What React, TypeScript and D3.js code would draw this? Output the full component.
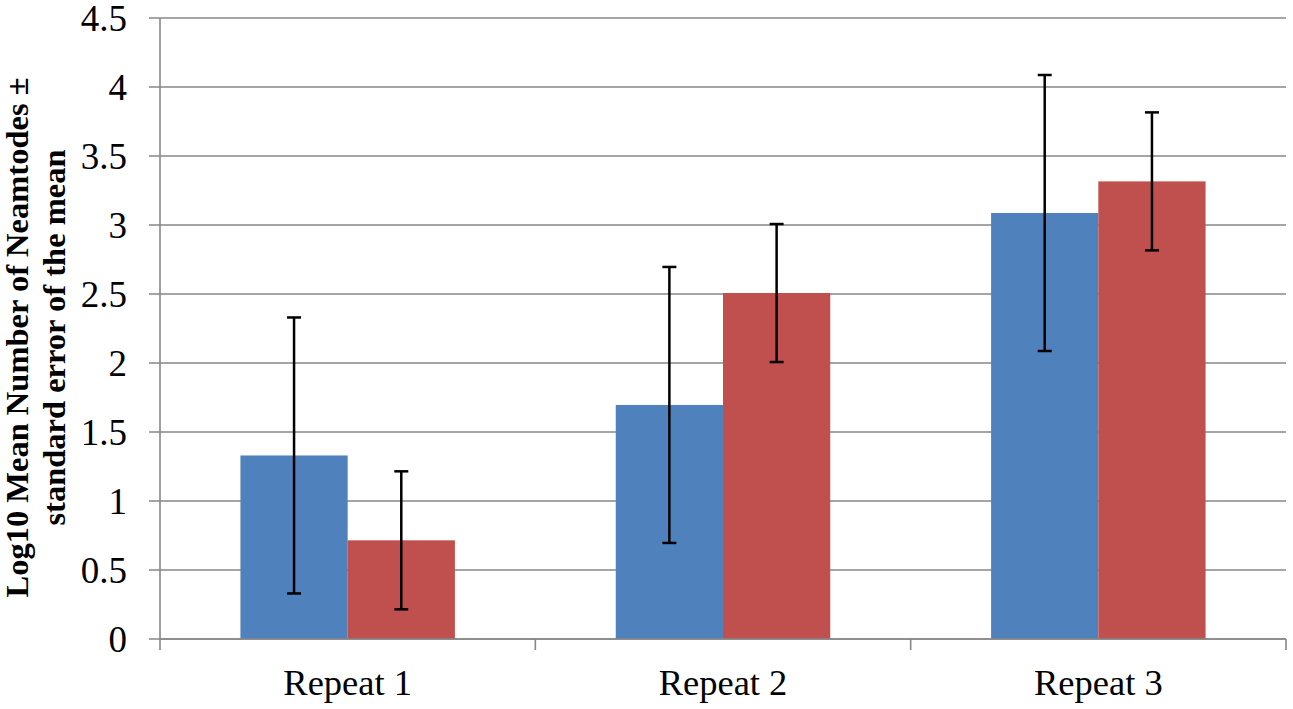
import * as d3 from "d3";
import { useEffect, useRef } from "react";

const width = 1293,
  height = 709,
  marginTop = 18,
  marginRight = 7,
  marginBottom = 70,
  marginLeft = 160;

const categories = ["Repeat 1", "Repeat 2", "Repeat 3"];
const series = ["A", "B"];
const blueValues = [1.33, 1.696, 3.087];
const redValues = [0.715, 2.507, 3.316];
const blueErr = [1.0, 1.0, 1.0];
const redErr = [0.5, 0.5, 0.5];
const yTicks = [0, 0.5, 1, 1.5, 2, 2.5, 3, 3.5, 4, 4.5];
const colors = ["#4F81BD", "#C0504D"];

export default function App() {
  const ref = useRef<SVGSVGElement | null>(null);

  useEffect(() => {
    if (!ref.current) return;
    const svg = d3.select(ref.current);
    svg.selectAll("*").remove();

    const x = d3.scaleBand(categories, [marginLeft, width - marginRight]).padding(0);
    const x1 = d3.scaleBand(series, [0, x.bandwidth()]).paddingInner(0).paddingOuter(0.75);
    const y = d3.scaleLinear([0, 4.5], [height - marginBottom, marginTop]);

    const rows = categories.map((c, i) => ({
      cat: c,
      vals: [
        { s: series[0], v: blueValues[i], e: blueErr[i] },
        { s: series[1], v: redValues[i], e: redErr[i] },
      ],
    }));

    // gridlines (extend left as tick marks)
    svg
      .append("g")
      .selectAll("line")
      .data(yTicks)
      .join("line")
      .attr("x1", marginLeft - 11)
      .attr("x2", width - marginRight)
      .attr("y1", (d) => y(d))
      .attr("y2", (d) => y(d))
      .attr("stroke", "#878787")
      .attr("stroke-width", 1.6);

    // y tick labels
    svg
      .append("g")
      .selectAll("text")
      .data(yTicks)
      .join("text")
      .attr("x", marginLeft - 33)
      .attr("y", (d) => y(d))
      .attr("dy", "0.35em")
      .attr("text-anchor", "end")
      .attr("font-family", "'Liberation Serif', 'Times New Roman', serif")
      .attr("font-size", 37)
      .attr("fill", "#000")
      .text((d) => String(d));

    // bars
    const groups = svg
      .append("g")
      .selectAll("g")
      .data(rows)
      .join("g")
      .attr("transform", (d) => `translate(${x(d.cat)},0)`);

    groups
      .selectAll("rect")
      .data((d) => d.vals)
      .join("rect")
      .attr("x", (d) => x1(d.s)!)
      .attr("width", x1.bandwidth())
      .attr("y", (d) => y(d.v))
      .attr("height", (d) => y(0) - y(d.v))
      .attr("fill", (_, i) => colors[i]);

    // error bars
    const eb = groups
      .selectAll("g.err")
      .data((d) => d.vals)
      .join("g")
      .attr("class", "err")
      .attr("stroke", "#000")
      .attr("stroke-width", 2.5);
    const cx = (d: { s: string }) => x1(d.s)! + x1.bandwidth() / 2;
    eb.append("line")
      .attr("x1", cx)
      .attr("x2", cx)
      .attr("y1", (d) => y(d.v + d.e))
      .attr("y2", (d) => y(d.v - d.e));
    eb.append("line")
      .attr("x1", (d) => cx(d) - 7)
      .attr("x2", (d) => cx(d) + 7)
      .attr("y1", (d) => y(d.v + d.e))
      .attr("y2", (d) => y(d.v + d.e));
    eb.append("line")
      .attr("x1", (d) => cx(d) - 7)
      .attr("x2", (d) => cx(d) + 7)
      .attr("y1", (d) => y(d.v - d.e))
      .attr("y2", (d) => y(d.v - d.e));

    // y axis line
    svg
      .append("line")
      .attr("x1", marginLeft)
      .attr("x2", marginLeft)
      .attr("y1", marginTop)
      .attr("y2", y(0) + 11)
      .attr("stroke", "#878787")
      .attr("stroke-width", 1.6);

    // x axis with category boundary ticks
    const xAxis = svg
      .append("g")
      .attr("transform", `translate(0,${y(0)})`);
    xAxis
      .append("line")
      .attr("x1", marginLeft)
      .attr("x2", width - marginRight)
      .attr("stroke", "#878787")
      .attr("stroke-width", 1.6);
    xAxis
      .selectAll("line.tick")
      .data(categories)
      .join("line")
      .attr("class", "tick")
      .attr("x1", (d) => x(d)! + x.bandwidth())
      .attr("x2", (d) => x(d)! + x.bandwidth())
      .attr("y1", 0)
      .attr("y2", 11)
      .attr("stroke", "#878787")
      .attr("stroke-width", 1.6);
    xAxis
      .selectAll("text")
      .data(categories)
      .join("text")
      .attr("x", (d) => x(d)! + x.bandwidth() / 2)
      .attr("y", 56)
      .attr("text-anchor", "middle")
      .attr("font-family", "'Liberation Serif', 'Times New Roman', serif")
      .attr("font-size", 36.5)
      .attr("fill", "#000")
      .text((d) => d);

    // y axis title
    const cy = (marginTop + y(0)) / 2 + 9;
    const title = svg
      .append("text")
      .attr("transform", `translate(28,${cy}) rotate(-90)`)
      .attr("text-anchor", "middle")
      .attr("font-family", "'Liberation Serif', 'Times New Roman', serif")
      .attr("font-weight", "bold")
      .attr("font-size", 32.5)
      .attr("fill", "#000");
    title.append("tspan").attr("x", 0).attr("y", 0).text("Log10 Mean Number of Neamtodes ±");
    title.append("tspan").attr("x", 0).attr("y", 37).text("standard error of the mean");
  }, []);

  return (
    <div style={{ position: "absolute", left: 0, top: 0 }}>
      <svg ref={ref} width={width} height={height} style={{ display: "block", background: "#fff" }} />
    </div>
  );
}
